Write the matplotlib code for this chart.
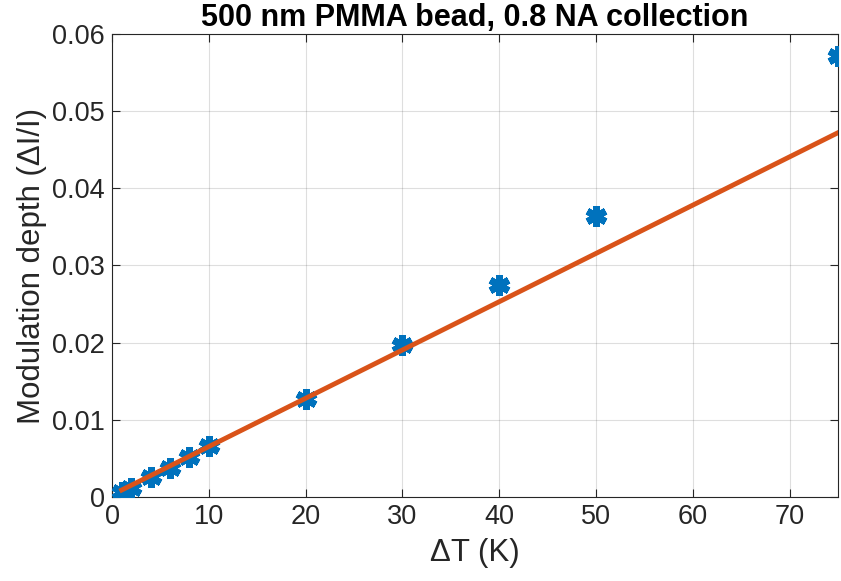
import matplotlib
matplotlib.use('Agg')
from matplotlib import pyplot as plt

plt.rcParams['font.family'] = ['Liberation Sans', 'DejaVu Sans']

# measured points
dT = [1, 2, 4, 6, 8, 10, 20, 30, 40, 50, 75]
depth = [0.0007, 0.0012, 0.0026, 0.0038, 0.0052, 0.0066, 0.0127, 0.0197, 0.0275, 0.0364, 0.0571]

# linear fit line
fit_x = [1, 75]
fit_y = [0.0009, 0.0472]

xticks = [0, 10, 20, 30, 40, 50, 60, 70]
yticks = [0, 0.01, 0.02, 0.03, 0.04, 0.05, 0.06]
ytick_labels = ['0', '0.01', '0.02', '0.03', '0.04', '0.05', '0.06']

blue = (0, 0.447, 0.741)
orange = (0.85, 0.325, 0.098)
axcol = (0.15, 0.15, 0.15)

fig = plt.figure(figsize=(8.41, 5.81), dpi=100)
ax = fig.add_axes([0.1332, 0.1446, 0.8632, 0.797])

ax.plot(dT, depth, linestyle='none', marker=(6, 2, 0), markersize=15,
        markeredgewidth=5, color=blue, zorder=3)
ax.plot(fit_x, fit_y, color=orange, linewidth=3.5, zorder=4)

ax.set_xlim(0, 75)
ax.set_ylim(0, 0.06)
ax.set_xticks(xticks)
ax.set_yticks(yticks)
ax.set_yticklabels(ytick_labels)

ax.grid(True, color=(0.15, 0.15, 0.15), alpha=0.15, linewidth=0.8)
ax.set_axisbelow(True)
ax.tick_params(direction='in', top=True, right=True, length=6, width=0.8,
               labelsize=19.5, colors=axcol, pad=5)
for s in ax.spines.values():
    s.set_color(axcol)
    s.set_linewidth(0.8)

ax.set_xlabel('ΔT (K)', fontsize=22.5, color=axcol, labelpad=6)
ax.set_ylabel('Modulation depth (ΔI/I)', fontsize=22.5, color=axcol, labelpad=4)
ax.set_title('500 nm PMMA bead, 0.8 NA collection', fontsize=22,
             fontweight='bold', pad=6)

fig.savefig('out.png', dpi=100)
